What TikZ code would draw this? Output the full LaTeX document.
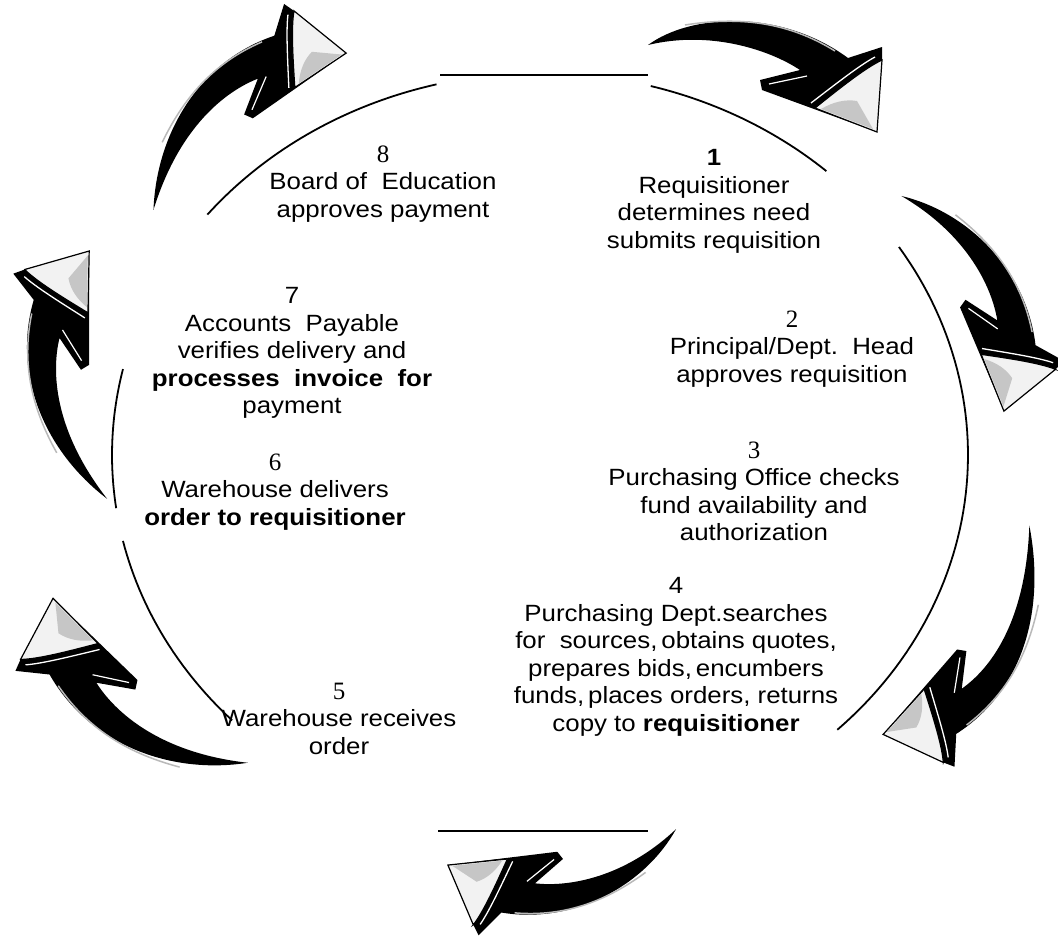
\documentclass[tikz,border=0pt]{standalone}
\usepackage{fontspec}
\setmainfont{Liberation Sans}[FakeStretch=1.1]
\newfontfamily\serifnum{Liberation Serif}
\newcommand\clipArrow[1][0]{%
  \fill[black] ({-117-#1},{-30+0.5*#1}) .. controls (-75,-61) and (15,-67) .. (83,-17)
     -- (117,-28) -- (117,-15) -- (112,57) -- (-3,15) -- (-5,5) -- (35,-5)
     .. controls (5,-25) and (-55,-45) .. ({-117-#1},{-30+0.5*#1}) -- cycle;
  \filldraw[fill=gray!10, draw=black, line width=1.2] (117,-15) -- (112,57) -- (50,33)
     .. controls (75,13) and (100,-7) .. cycle;
  \fill[gray!45] (108,54) -- (56,34) .. controls (68,27) and (80,24) .. (92,26) -- cycle;
  \draw[white, line width=1.3] (46,28) .. controls (72,8) and (95,-10) .. (110,-18);
  \draw[white, line width=1.2] (4,9) -- (42,1);
  \draw[gray!55, line width=1.5] (-80,-50) .. controls (-30,-58) and (20,-55) .. (70,-24);
}
\begin{document}
\begin{tikzpicture}[x=1pt,y=-1pt,
  arcline/.style={line width=1.8pt, black},
  hline/.style={line width=2.6pt, black},
  steptext/.style={align=center, inner sep=0pt, anchor=north,
     font=\fontsize{23.5}{27.5}\selectfont}]
\useasboundingbox (0,0) rectangle (1058,938);
\fill[white] (0,0) rectangle (1058,938);

% thin circle arcs
\draw[arcline] plot[domain=104:141, samples=40] ({540+428*cos(\x)},{455-382*sin(\x)});
\draw[arcline] plot[domain=48:75, samples=30] ({540+428*cos(\x)},{455-382*sin(\x)});
\draw[arcline] plot[domain=-46:33, samples=60] ({540+428*cos(\x)},{455-382*sin(\x)});
\draw[arcline] plot[domain=167:188, samples=25] ({540+428*cos(\x)},{455-382*sin(\x)});
\draw[arcline] plot[domain=193:224, samples=30] ({540+428*cos(\x)},{455-382*sin(\x)});

% horizontal lines
\draw[hline] (440,75) -- (648,75);
\draw[hline] (438,831) -- (648,831);

% arrows
\begin{scope}[shift={(765,75)}] \clipArrow \end{scope}
\begin{scope}[shift={(972,300)}, rotate=-47, scale=0.92] \clipArrow[18] \end{scope}
\begin{scope}[shift={(969,657)}, rotate=-111, scale=0.92] \clipArrow[40] \end{scope}
\begin{scope}[shift={(561,865)}, rotate=-153, scale=0.9] \clipArrow[15] \end{scope}
\begin{scope}[shift={(129,692)}, rotate=-204, scale=0.96] \clipArrow[26] \end{scope}
\begin{scope}[shift={(75,367)}, rotate=-250, scale=0.93] \clipArrow[28] \end{scope}
\begin{scope}[shift={(243,108)}, rotate=55, scale=0.93] \clipArrow[28] \end{scope}

% texts
\node[steptext] (s8) at (383,145.5) {{\serifnum\fontsize{25}{27.5}\selectfont 8}\\Board of\ \ Education\\approves payment};
\node[steptext] (s1) at (714,149.5) {{\bfseries 1}\\Requisitioner\\determines need\\submits requisition};
\node[steptext] (s2) at (792,310.5) {{\serifnum\fontsize{25}{27.5}\selectfont 2}\\Principal/Dept.\ \ Head\\approves requisition};
\node[steptext] (s3) at (754,441.5) {{\serifnum\fontsize{25}{27.5}\selectfont 3}\\Purchasing Office checks\\fund availability and\\authorization};
\node[steptext] (s4) at (676,577.5) {4\\Purchasing Dept.searches\\for\ \ sources,\,obtains quotes,\\prepares bids,\,encumbers\\funds,\,places orders, returns\\copy to \textbf{requisitioner}};
\node[steptext] (s5) at (339,682.5) {{\serifnum\fontsize{25}{27.5}\selectfont 5}\\Warehouse receives\\order};
\node[steptext] (s6) at (275,453.5) {{\serifnum\fontsize{25}{27.5}\selectfont 6}\\Warehouse delivers\\\textbf{order to requisitioner}};
\node[steptext] (s7) at (292,287.5) {7\\Accounts\ \ Payable\\verifies delivery and\\\textbf{processes\ \ invoice\ \ for}\\payment};
\end{tikzpicture}
\end{document}
